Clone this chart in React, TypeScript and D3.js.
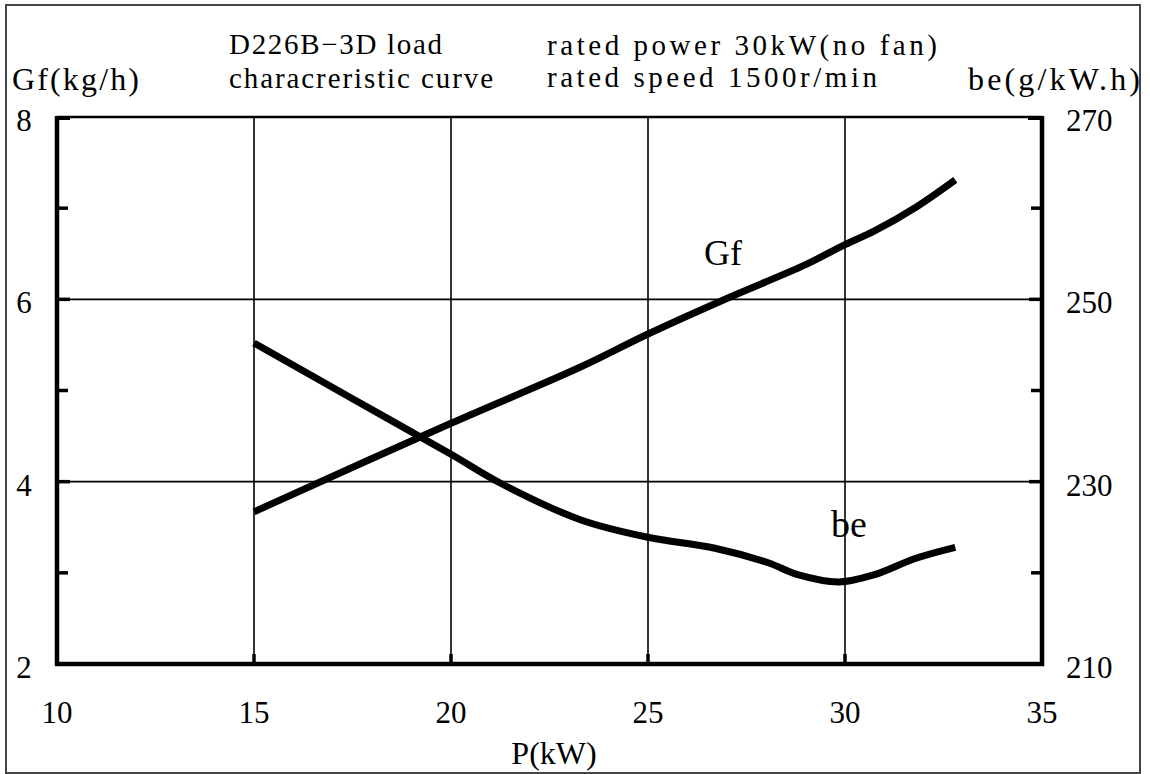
import React from "react";
import * as d3 from "d3";

// ---- data ----
const xTicks = [10, 15, 20, 25, 30, 35];
const xGrid = [15, 20, 25, 30];
const leftTicks = [2, 4, 6, 8];
const leftMinor = [3, 5, 7];
const leftGrid = [4, 6];
const rightTicks = [210, 230, 250, 270];
const rightMinor = [220, 240, 260];

const gfP = [15, 20, 23.3, 25, 27, 29, 30, 30.75, 31.8, 32.8];
const gfVal = [3.67, 4.64, 5.26, 5.62, 6.01, 6.38, 6.6, 6.75, 7.01, 7.31];

const beP = [15, 17.5, 20, 21.27, 23.3, 25, 26.7, 28.05, 28.8, 29.85, 30.75, 31.8, 32.8];
const beVal = [245.2, 239.1, 233.0, 229.8, 225.8, 223.9, 222.7, 221.1, 219.8, 219.0, 219.8, 221.6, 222.8];

const W = 1150;
const H = 774;

export default function App() {
  const x = d3.scaleLinear().domain([10, 35]).range([57, 1042]);
  const yL = d3.scaleLinear().domain([2, 8]).range([664, 117]);
  const yR = d3.scaleLinear().domain([210, 270]).range([664, 117]);

  const gfLine = d3
    .line<number>()
    .x((_, i) => x(gfP[i]))
    .y((d) => yL(d))
    .curve(d3.curveCatmullRom.alpha(0.5));
  const beLine = d3
    .line<number>()
    .x((_, i) => x(beP[i]))
    .y((d) => yR(d))
    .curve(d3.curveCatmullRom.alpha(0.5));

  const [x0, x1] = x.range();
  const yTop = yL(8);
  const yBot = yL(2);
  const font = '"Liberation Serif", "DejaVu Serif", "Times New Roman", serif';

  return (
    <svg
      width={W}
      height={H}
      style={{ position: "absolute", left: 0, top: 0, display: "block", background: "#fff", fontFamily: font }}
    >
      <rect x={0} y={0} width={W} height={H} fill="#fff" />
      {/* outer frame */}
      <rect x={6} y={5} width={1134} height={768} fill="none" stroke="#444" strokeWidth={2} />

      {/* grid */}
      {xGrid.map((v) => (
        <line key={"gx" + v} x1={x(v)} x2={x(v)} y1={yTop} y2={yBot} stroke="#000" strokeWidth={1.6} />
      ))}
      {leftGrid.map((v) => (
        <line key={"gy" + v} x1={x0} x2={x1} y1={yL(v)} y2={yL(v)} stroke="#000" strokeWidth={1.6} />
      ))}
      {/* top border */}
      <line x1={x0} x2={x1} y1={yTop} y2={yTop} stroke="#000" strokeWidth={2.4} />
      <line x1={x0} x2={x0 + 13} y1={yTop + 1} y2={yTop + 1} stroke="#000" strokeWidth={4} />
      <line x1={x1 - 14} x2={x1} y1={yTop + 1} y2={yTop + 1} stroke="#000" strokeWidth={4} />
      {/* thick axes */}
      <line x1={x0} x2={x0} y1={yTop - 1} y2={yBot + 2} stroke="#000" strokeWidth={4.5} />
      <line x1={x1} x2={x1} y1={yTop - 1} y2={yBot + 2} stroke="#000" strokeWidth={4.5} />
      <line x1={x0 - 2} x2={x1 + 2} y1={yBot} y2={yBot} stroke="#000" strokeWidth={4.5} />

      {/* left ticks */}
      {leftMinor.map((v) => (
        <line key={"lm" + v} x1={x0} x2={x0 + 11} y1={yL(v)} y2={yL(v)} stroke="#000" strokeWidth={3.5} />
      ))}
      {leftGrid.map((v) => (
        <line key={"lM" + v} x1={x0} x2={x0 + 13} y1={yL(v)} y2={yL(v)} stroke="#000" strokeWidth={3.5} />
      ))}
      {/* right ticks */}
      {rightMinor.map((v) => (
        <line key={"rm" + v} x1={x1} x2={x1 - 11} y1={yR(v)} y2={yR(v)} stroke="#000" strokeWidth={3.5} />
      ))}
      {[230, 250].map((v) => (
        <line key={"rM" + v} x1={x1} x2={x1 - 13} y1={yR(v)} y2={yR(v)} stroke="#000" strokeWidth={3.5} />
      ))}
      {/* bottom ticks */}
      {xGrid.map((v) => (
        <line key={"bt" + v} x1={x(v)} x2={x(v)} y1={yBot} y2={yBot - 10} stroke="#000" strokeWidth={3.5} />
      ))}

      {/* curves */}
      <path d={gfLine(gfVal) || ""} fill="none" stroke="#000" strokeWidth={7} strokeLinecap="butt" strokeLinejoin="round" />
      <path d={beLine(beVal) || ""} fill="none" stroke="#000" strokeWidth={7} strokeLinecap="butt" strokeLinejoin="round" />

      {/* tick labels */}
      {leftTicks.map((v) => (
        <text key={"lt" + v} x={24} y={yL(v) + 14} fontSize={31} textAnchor="middle" fill="#000">
          {v}
        </text>
      ))}
      {rightTicks.map((v) => (
        <text key={"rt" + v} x={1066} y={yR(v) + 14} fontSize={31} fill="#000">
          {v}
        </text>
      ))}
      {xTicks.map((v) => (
        <text key={"xt" + v} x={x(v)} y={723} fontSize={31} textAnchor="middle" fill="#000">
          {v}
        </text>
      ))}

      {/* axis titles */}
      <text x={12} y={90} fontSize={32} textLength={127} lengthAdjust="spacing" fill="#000">
        Gf(kg/h)
      </text>
      <text x={968} y={90} fontSize={32} textLength={172} lengthAdjust="spacing" fill="#000">
        be(g/kW.h)
      </text>
      <text x={554} y={764} fontSize={32} textAnchor="middle" fill="#000">
        P(kW)
      </text>

      {/* header */}
      <text x={229} y={54} fontSize={29} textLength={213} lengthAdjust="spacing" fill="#000">
        D226B−3D load
      </text>
      <text x={229} y={88} fontSize={29} textLength={264} lengthAdjust="spacing" fill="#000">
        characreristic curve
      </text>
      <text x={547} y={55} fontSize={29} textLength={390} lengthAdjust="spacing" fill="#000">
        rated power 30kW(no fan)
      </text>
      <text x={547} y={87} fontSize={29} textLength={330} lengthAdjust="spacing" fill="#000">
        rated speed 1500r/min
      </text>

      {/* curve labels */}
      <text x={704} y={265} fontSize={36} fill="#000">
        Gf
      </text>
      <text x={831} y={537} fontSize={38} fill="#000">
        be
      </text>
    </svg>
  );
}
